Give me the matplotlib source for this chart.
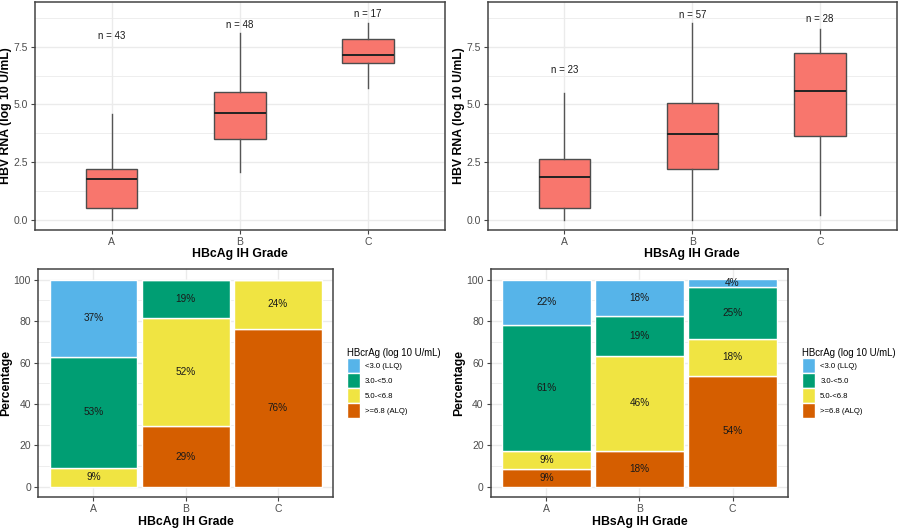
import matplotlib
matplotlib.use("Agg")
from matplotlib import pyplot as plt
from matplotlib.patches import Patch

plt.rcParams['font.family'] = ['Liberation Sans', 'DejaVu Sans']

# box plot data (log10 U/mL)
grades = ["A", "B", "C"]

core_lo = [0.0, 2.06, 5.73]
core_q1 = [0.51, 3.49, 6.80]
core_med = [1.77, 4.62, 7.14]
core_q3 = [2.21, 5.53, 7.84]
core_hi = [4.57, 8.08, 8.54]
core_n = [43, 48, 17]
core_n_y = [7.96, 8.44, 8.89]

surf_lo = [0.0, 0.0, 0.22]
surf_q1 = [0.51, 2.21, 3.64]
surf_med = [1.88, 3.71, 5.60]
surf_q3 = [2.65, 5.05, 7.23]
surf_hi = [5.48, 8.51, 8.25]
surf_n = [23, 57, 28]
surf_n_y = [6.49, 8.87, 8.69]

# stacked bar data (percent), bottom to top
levels = [">=6.8 (ALQ)", "5.0-<6.8", "3.0-<5.0", "<3.0 (LLQ)"]
level_colors = ["#D55E00", "#F0E442", "#009E73", "#56B4E9"]

core_pct = {
    ">=6.8 (ALQ)": [0.0, 29.2, 76.4],
    "5.0-<6.8": [9.3, 52.1, 23.5],
    "3.0-<5.0": [53.4, 18.7, 0.0],
    "<3.0 (LLQ)": [37.2, 0.0, 0.0],
}
surf_pct = {
    ">=6.8 (ALQ)": [8.7, 17.5, 53.6],
    "5.0-<6.8": [8.7, 45.6, 17.9],
    "3.0-<5.0": [60.9, 19.3, 25.0],
    "<3.0 (LLQ)": [21.7, 17.5, 3.6],
}

grid_c = "#EBEBEB"
border_c = "#444444"
tick_c = "#4D4D4D"


def style(ax):
    for s in ax.spines.values():
        s.set_color(border_c)
        s.set_linewidth(1.1)
    ax.tick_params(colors=border_c, labelcolor=tick_c, labelsize=7.5, length=3, width=0.8, pad=2)
    ax.set_axisbelow(True)


def box_panel(ax, lo, q1, med, q3, hi, n, n_y, xlabel):
    stats = []
    for i in range(len(grades)):
        stats.append(dict(whislo=lo[i], q1=q1[i], med=med[i], q3=q3[i], whishi=hi[i], fliers=[]))
    ax.bxp(stats, positions=[1, 2, 3], widths=0.4, patch_artist=True, showcaps=False,
           boxprops=dict(facecolor="#F8766D", edgecolor="#4d4d4d", linewidth=1.0),
           medianprops=dict(color="#222222", linewidth=1.4),
           whiskerprops=dict(color="#555555", linewidth=1.0))
    for i in range(len(grades)):
        ax.text(i + 1, n_y[i], "n = %d" % n[i], ha="center", va="center", fontsize=7, color="#1a1a1a")
    ax.set_xlim(0.4, 3.6)
    ax.set_ylim(-0.43, 9.43)
    ax.set_yticks([0, 2.5, 5, 7.5])
    ax.set_yticklabels(["0.0", "2.5", "5.0", "7.5"])
    ax.set_yticks([1.25, 3.75, 6.25, 8.75], minor=True)
    ax.tick_params(axis="y", which="minor", length=0)
    ax.set_xticks([1, 2, 3])
    ax.set_xticklabels(grades)
    ax.grid(True, which="major", color=grid_c, linewidth=1.0)
    ax.grid(True, which="minor", axis="y", color=grid_c, linewidth=0.6)
    ax.set_xlabel(xlabel, fontsize=8.8, fontweight="bold", labelpad=1)
    ax.set_ylabel("HBV RNA (log 10 U/mL)", fontsize=8.8, fontweight="bold", labelpad=1)
    style(ax)


def bar_panel(ax, pct, xlabel):
    x = [1, 2, 3]
    bottom = [0.0, 0.0, 0.0]
    for lev, col in zip(levels, level_colors):
        vals = pct[lev]
        ax.bar(x, vals, bottom=bottom, width=0.95, color=col, edgecolor="white", linewidth=1.0)
        for i in range(3):
            if vals[i] > 0:
                ax.text(x[i], bottom[i] + vals[i] / 2, "%d%%" % round(vals[i]),
                        ha="center", va="center", fontsize=7.2, color="#1a1a1a")
        bottom = [b + v for b, v in zip(bottom, vals)]
    ax.set_xlim(0.4, 3.6)
    ax.set_ylim(-5, 105)
    ax.set_yticks([0, 20, 40, 60, 80, 100])
    ax.set_yticks([10, 30, 50, 70, 90], minor=True)
    ax.tick_params(axis="y", which="minor", length=0)
    ax.set_xticks(x)
    ax.set_xticklabels(grades)
    ax.grid(True, which="major", color=grid_c, linewidth=1.0)
    ax.grid(True, which="minor", axis="y", color=grid_c, linewidth=0.6)
    ax.set_xlabel(xlabel, fontsize=8.8, fontweight="bold", labelpad=1)
    ax.set_ylabel("Percentage", fontsize=8.8, fontweight="bold", labelpad=1)
    style(ax)
    handles = [Patch(facecolor=c, edgecolor="white", label=l)
               for l, c in zip(levels[::-1], level_colors[::-1])]
    leg = ax.legend(handles=handles, title="HBcrAg (log 10 U/mL)", loc="center left",
                    bbox_to_anchor=(1.045, 0.5), frameon=False, fontsize=5.6,
                    title_fontsize=6.9, handlelength=1.68, handleheight=2.59,
                    labelspacing=0.0, handletextpad=0.7, borderaxespad=0, borderpad=0)
    leg._legend_box.align = "left"


fig = plt.figure(figsize=(9, 5.29), dpi=100)

ax1 = fig.add_axes([0.0389, 0.5652, 0.4555, 0.4310])
ax2 = fig.add_axes([0.5419, 0.5652, 0.4544, 0.4310])
ax3 = fig.add_axes([0.0422, 0.0599, 0.3282, 0.4310])
ax4 = fig.add_axes([0.5452, 0.0599, 0.3307, 0.4310])

box_panel(ax1, core_lo, core_q1, core_med, core_q3, core_hi, core_n, core_n_y, "HBcAg IH Grade")
box_panel(ax2, surf_lo, surf_q1, surf_med, surf_q3, surf_hi, surf_n, surf_n_y, "HBsAg IH Grade")
bar_panel(ax3, core_pct, "HBcAg IH Grade")
bar_panel(ax4, surf_pct, "HBsAg IH Grade")

plt.savefig("out.png", dpi=100)
